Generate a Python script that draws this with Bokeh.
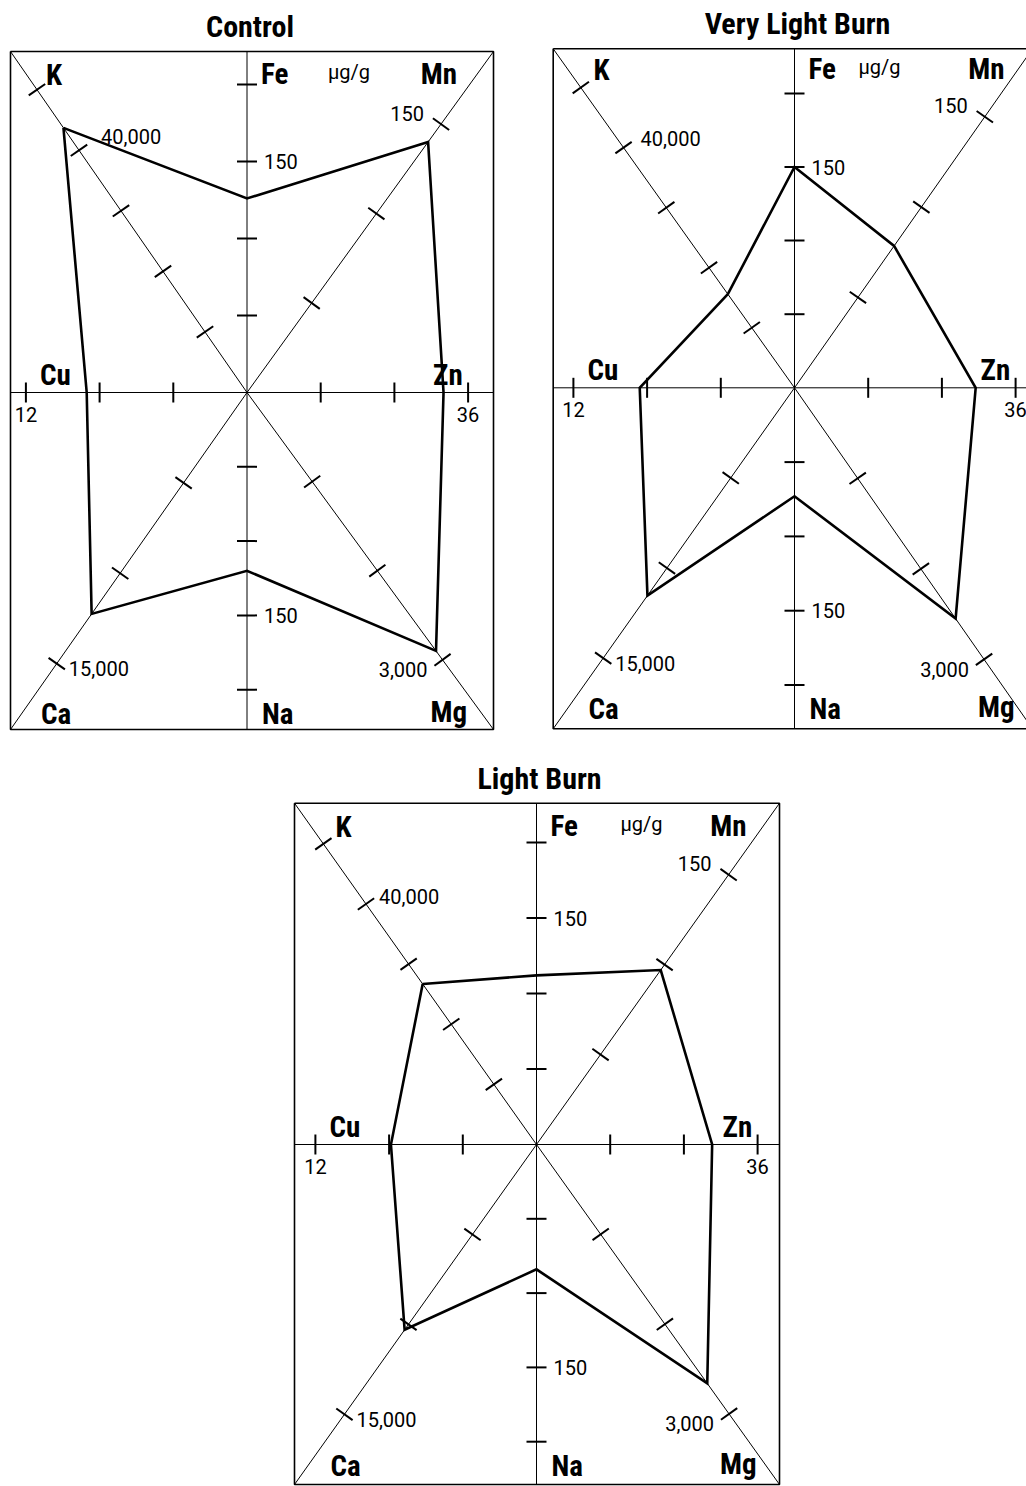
import numpy as np
from bokeh.plotting import figure
from bokeh.embed import file_html
from bokeh.resources import INLINE
from bokeh.core.properties import value
from bokeh.models import Range1d

# ---------------- data ----------------
panels = ["Control", "Very Light Burn", "Light Burn"]
elements = ["K", "Fe", "Mn", "Zn", "Mg", "Na", "Ca", "Cu"]   # clockwise from upper left
control = [43700, 126, 140, 32.0, 2900, 120, 12250, 8.7]
very_light_burn = [15600, 150, 78.5, 29.5, 2550, 73, 11530, 8.4]
light_burn = [26700, 112, 97, 28.6, 2660, 84, 10300, 7.9]
series = [control, very_light_burn, light_burn]

k_ticks = [10000, 20000, 30000, 40000, 50000]
fe_ticks = [50, 100, 150, 200]
mn_ticks = [50, 100, 150]
zn_ticks = [12, 24, 36]
mg_ticks = [1000, 2000, 3000]
na_ticks = [50, 100, 150, 200]
ca_ticks = [5000, 10000, 15000]
cu_ticks = [4, 8, 12]
tick_values = [k_ticks, fe_ticks, mn_ticks, zn_ticks, mg_ticks, na_ticks, ca_ticks, cu_ticks]
labelled_ticks = [40000, 150, 150, 36, 3000, 150, 15000, 12]
tick_labels = ["40,000", "150", "150", "36", "3,000", "150", "15,000", "12"]
unit_label = "µg/g"

# ---------------- layout / style ----------------
W, H = 1026, 1486
X0, Y0 = 0, 0                      # data coords == window px
# px per tick step on each axis (K, Fe, Mn, Zn, Mg, Na, Ca, Cu); Fe differs a little per panel
step_px = [73.7, 75.0, 110.4, 73.7, 110.4, 74.3, 110.4, 73.7]
frames = [
    dict(cx=246.5, cy=392.0, l=10.0, r=493.0, t=51.0, b=729.0, fe=77.0, kdx=22, kdy=-14, ux=81),
    dict(cx=794.0, cy=387.3, l=552.7, r=1032.0, t=48.3, b=728.3, fe=73.6, kdx=17, kdy=-9, ux=64),
    dict(cx=536.0, cy=1144.0, l=294.0, r=779.0, t=802.7, b=1484.0, fe=75.5, kdx=13, kdy=-8, ux=84),
]
TICK_HALF = 10
BOLD = value("Roboto Condensed")
REG = value("Roboto")


def axis_end(f, i):
    cx, cy, l, r, t, b = f["cx"], f["cy"], f["l"], f["r"], f["t"], f["b"]
    return [(l, t), (cx, t), (r, t), (r, cy), (r, b), (cx, b), (l, b), (l, cy)][i]


def unit_vec(f, i):
    ex, ey = axis_end(f, i)
    v = np.array([ex - f["cx"], ey - f["cy"]])
    return v / np.hypot(*v)


def to_xy(f, i, val):
    step = f["fe"] if i == 1 else step_px[i]
    d = val / tick_values[i][0] * step
    u = unit_vec(f, i)
    return f["cx"] + u[0] * d, f["cy"] + u[1] * d


p = figure(width=W, height=H, output_backend="svg", toolbar_location=None,
           x_range=Range1d(X0, X0 + W), y_range=Range1d(Y0 + H, Y0),
           min_border=0, outline_line_color=None)
p.axis.visible = False
p.grid.visible = False

for k, f in enumerate(frames):
    # frame
    p.line([f["l"], f["r"], f["r"], f["l"], f["l"]], [f["t"], f["t"], f["b"], f["b"], f["t"]],
           line_color="black", line_width=1.6)
    # axes
    xs, ys = [], []
    for i in range(8):
        ex, ey = axis_end(f, i)
        xs.append([f["cx"], ex]); ys.append([f["cy"], ey])
    p.multi_line(xs, ys, line_color="black", line_width=1.0)
    # ticks
    txs, tys = [], []
    for i in range(8):
        u = unit_vec(f, i)
        n = np.array([-u[1], u[0]])
        for tv in tick_values[i]:
            px, py = to_xy(f, i, tv)
            txs.append([px - n[0] * TICK_HALF, px + n[0] * TICK_HALF])
            tys.append([py - n[1] * TICK_HALF, py + n[1] * TICK_HALF])
    p.multi_line(txs, tys, line_color="black", line_width=2.0)
    # data polygon
    pts = [to_xy(f, i, v) for i, v in enumerate(series[k])]
    pts.append(pts[0])
    p.line([q[0] for q in pts], [q[1] for q in pts], line_color="black",
           line_width=2.6, line_join="miter")

    cx, cy = f["cx"], f["cy"]
    # title
    p.text([cx + 3], [f["t"] - 25], text=[panels[k]], text_font=BOLD, text_font_style="bold",
           text_font_size="30px", text_align="center", text_baseline="middle")
    # element names (vertical centre given)
    left_names = [("K", -201, -318), ("Fe", 14, -319), ("Cu", -207, -18), ("Zn", 186, -18),
                  ("Ca", -206, 321), ("Na", 15, 321)]
    p.text([cx + a for _, a, _ in left_names], [cy + b for _, _, b in left_names],
           text=[n for n, _, _ in left_names], text_font=BOLD, text_font_style="bold",
           text_font_size="29px", text_align="left", text_baseline="middle")
    right_names = [("Mn", 210, -319), ("Mg", 220, 319)]
    p.text([cx + a for _, a, _ in right_names], [cy + b for _, _, b in right_names],
           text=[n for n, _, _ in right_names], text_font=BOLD, text_font_style="bold",
           text_font_size="29px", text_align="right", text_baseline="middle")
    p.text([cx + f["ux"]], [cy - 321], text=[unit_label], text_font=REG,
           text_font_size="20px", text_align="left", text_baseline="middle")

    # tick labels: (align, baseline, dx, dy) relative to the labelled tick
    offs = [("left", "middle", f["kdx"], f["kdy"]), ("left", "middle", 17, 0),
            ("right", "middle", -17, -11), ("center", "top", 0, 14),
            ("right", "middle", -15, 10), ("left", "middle", 17, 0),
            ("left", "middle", 12, 5), ("center", "top", 0, 14)]
    for i in range(8):
        px, py = to_xy(f, i, labelled_ticks[i])
        al, bl, dx, dy = offs[i]
        p.text([px + dx], [py + dy], text=[tick_labels[i]], text_font=REG,
               text_font_size="20px", text_align=al, text_baseline=bl)

open("out.html", "w").write(file_html(p, INLINE))
